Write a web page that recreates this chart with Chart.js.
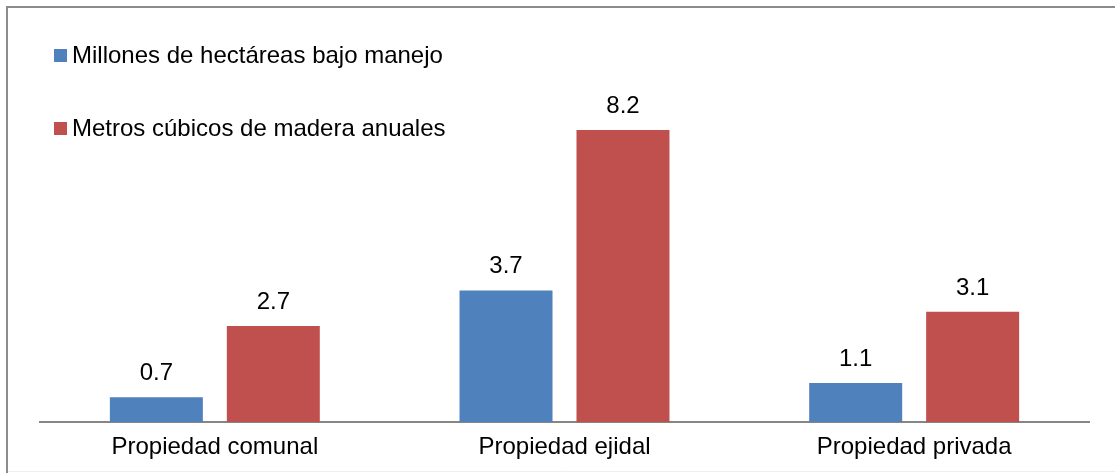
<!DOCTYPE html>
<html>
<head>
<meta charset="utf-8">
<script src="https://cdn.jsdelivr.net/npm/chart.js@4"></script>
<style>
html,body{margin:0;padding:0;background:#fff;}
#wrap{position:relative;width:1115px;height:473px;}
</style>
</head>
<body>
<div id="wrap"><canvas id="c" width="1115" height="473"></canvas></div>
<script>
const categories = ["Propiedad comunal", "Propiedad ejidal", "Propiedad privada"];
const seriesNames = ["Millones de hectáreas bajo manejo", "Metros cúbicos de madera anuales"];
const hectareas = [0.7, 3.7, 1.1];
const metrosCubicos = [2.7, 8.2, 3.1];
const colors = ["#4F81BD", "#C0504D"];

const FONT = "'Liberation Sans', Arial, sans-serif";

const framePlugin = {
  id: 'frame',
  beforeDraw(chart) {
    const ctx = chart.ctx;
    ctx.save();
    ctx.fillStyle = '#fff';
    ctx.fillRect(0, 0, chart.width, chart.height);
    ctx.strokeStyle = '#8c8c8c';
    ctx.lineWidth = 2;
    ctx.beginPath();
    ctx.moveTo(7, chart.height);
    ctx.lineTo(7, 7);
    ctx.lineTo(chart.width + 5, 7);
    ctx.stroke();
    ctx.strokeStyle = '#eeeeee';
    ctx.lineWidth = 1;
    ctx.beginPath();
    ctx.moveTo(8, 471.5);
    ctx.lineTo(chart.width, 471.5);
    ctx.stroke();
    ctx.restore();
  }
};

const labelPlugin = {
  id: 'valueLabels',
  afterDatasetsDraw(chart) {
    const ctx = chart.ctx;
    ctx.save();
    ctx.font = '24px ' + FONT;
    ctx.fillStyle = '#000';
    ctx.textAlign = 'center';
    ctx.textBaseline = 'alphabetic';
    chart.data.datasets.forEach((ds, i) => {
      chart.getDatasetMeta(i).data.forEach((bar, j) => {
        ctx.fillText(String(ds.data[j]), bar.x, bar.y - 17);
      });
    });
    ctx.restore();
  }
};

const legendPlugin = {
  id: 'customLegend',
  afterDraw(chart) {
    const ctx = chart.ctx;
    ctx.save();
    ctx.font = '24px ' + FONT;
    ctx.textBaseline = 'middle';
    ctx.textAlign = 'left';
    const ys = [55.5, 128.5];
    chart.data.datasets.forEach((ds, i) => {
      ctx.fillStyle = ds.backgroundColor;
      ctx.fillRect(54, ys[i] - 6.5, 13, 13);
      ctx.fillStyle = '#000';
      ctx.fillText(ds.label, 72, ys[i] + 1);
    });
    ctx.restore();
  }
};

new Chart(document.getElementById('c'), {
  type: 'bar',
  data: {
    labels: categories,
    datasets: [
      { label: seriesNames[0], data: hectareas, backgroundColor: colors[0] },
      { label: seriesNames[1], data: metrosCubicos, backgroundColor: colors[1] }
    ]
  },
  options: {
    responsive: false,
    animation: false,
    devicePixelRatio: 1,
    categoryPercentage: 0.669,
    barPercentage: 0.795,
    layout: { padding: { top: 66, left: 40, right: 26, bottom: 0 } },
    plugins: { legend: { display: false }, tooltip: { enabled: false } },
    scales: {
      x: {
        grid: { display: false, drawTicks: false },
        border: { display: true, color: '#868686', width: 2 },
        ticks: { color: '#000', font: { family: FONT, size: 24 }, padding: 11 }
      },
      y: {
        display: false,
        min: 0,
        max: 10
      }
    }
  },
  plugins: [framePlugin, labelPlugin, legendPlugin]
});
</script>
</body>
</html>
